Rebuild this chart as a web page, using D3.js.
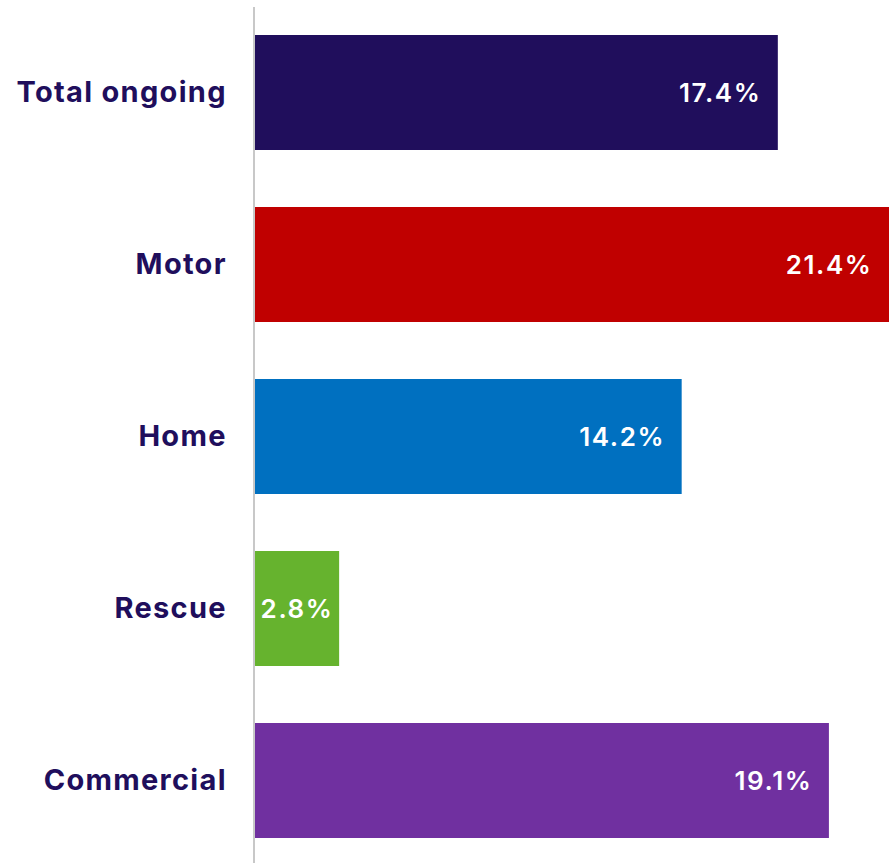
<!DOCTYPE html>
<html>
<head>
<meta charset="utf-8">
<script src="https://cdn.jsdelivr.net/npm/d3@7"></script>
<style>
  html, body { margin: 0; padding: 0; background: #ffffff; }
  svg { display: block; }
  .cat text { font-family: Inter, "Open Sans", sans-serif; font-weight: 650; font-size: 29px; letter-spacing: 1.3px; fill: #200e5c; }
  .val { font-family: Inter, "Open Sans", sans-serif; font-weight: 600; font-size: 26px; letter-spacing: 1.6px; fill: #ffffff; }
</style>
</head>
<body>
<svg id="chart" width="889" height="863"></svg>
<script>
// Share of ongoing business by line
const categories = ["Total ongoing", "Motor", "Home", "Rescue", "Commercial"];
const values = [17.4, 21.4, 14.2, 2.8, 19.1];
const colors = ["#200e5c", "#c00000", "#0070c0", "#66b32e", "#7030a0"];
const valueLabels = ["17.4%", "21.4%", "14.2%", "2.8%", "19.1%"];

const W = 889, H = 863;
const svg = d3.select("#chart");

const x = d3.scaleLinear().domain([0, 21.1]).range([255, 889]);
const y = d3.scaleBand()
  .domain(categories)
  .range([6.5, 866.5])
  .paddingInner(0.3314)
  .paddingOuter(0.1657);

// bars (clipped by the svg edge when they run past it)
svg.append("g").selectAll("rect")
  .data(categories)
  .join("rect")
  .attr("x", x(0))
  .attr("y", d => y(d))
  .attr("width", (d, i) => x(values[i]) - x(0))
  .attr("height", y.bandwidth())
  .attr("fill", (d, i) => colors[i]);

// category axis
const axis = svg.append("g")
  .attr("class", "cat")
  .attr("transform", `translate(${x(0) - 1.5},0)`)
  .call(d3.axisLeft(y).tickSize(0).tickPadding(28));
axis.select(".domain").attr("stroke", "#c8c8c8").attr("stroke-width", 2);
// letter-spacing also trails the last glyph, so shift right by that amount
axis.selectAll("text").attr("dy", "0.32em").attr("dx", "1.3");

// value labels inside bar ends, centred when the bar is too short
const labels = svg.append("g").selectAll("text")
  .data(categories)
  .join("text")
  .attr("class", "val")
  .attr("y", d => y(d) + y.bandwidth() / 2)
  .attr("dy", "0.35em")
  .text((d, i) => valueLabels[i]);

labels.each(function (d, i) {
  const t = d3.select(this);
  const tw = this.getComputedTextLength();
  const x0 = x(0);
  const barEnd = Math.min(x(values[i]), W);
  const end = barEnd - 18 + 1.6;
  if (end - tw < x0 + 6) {
    t.attr("text-anchor", "middle").attr("x", (x0 + barEnd) / 2);
  } else {
    t.attr("text-anchor", "end").attr("x", end);
  }
});
</script>
</body>
</html>
